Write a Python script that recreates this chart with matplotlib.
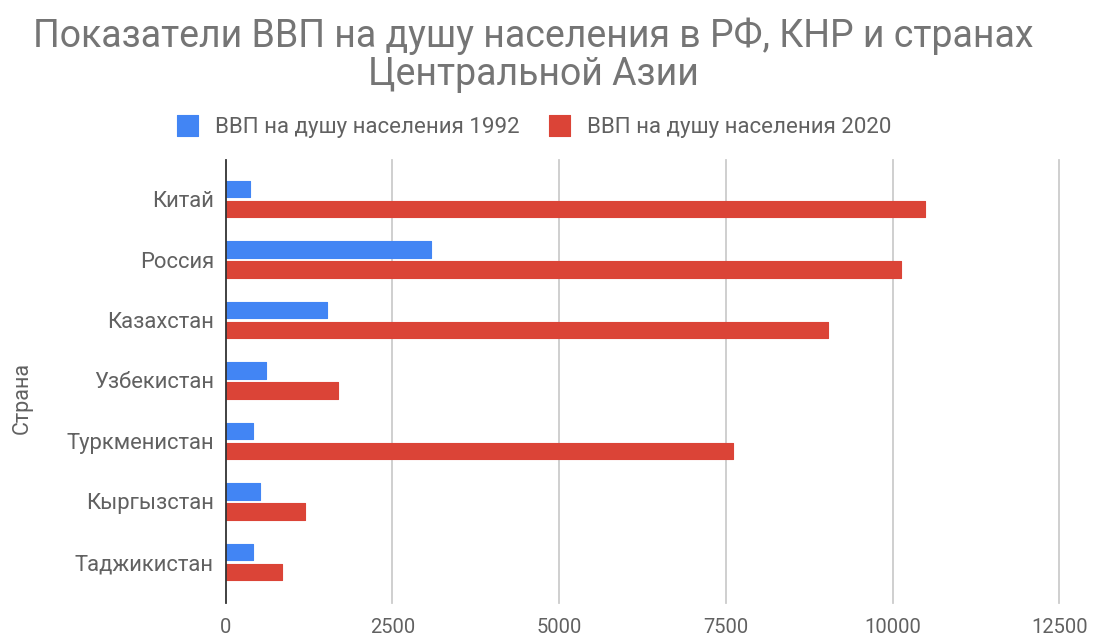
import matplotlib
matplotlib.use("Agg")
import matplotlib.pyplot as plt
from matplotlib.patches import Rectangle
import numpy as np

plt.rcParams['font.family'] = ['Roboto', 'DejaVu Sans']

countries = ["Китай", "Россия", "Казахстан", "Узбекистан", "Туркменистан", "Кыргызстан", "Таджикистан"]
gdp_1992 = [370, 3085, 1520, 600, 405, 515, 405]
gdp_2020 = [10490, 10120, 9030, 1685, 7605, 1185, 850]
series_names = ["ВВП на душу населения 1992", "ВВП на душу населения 2020"]
x_ticks = [0, 2500, 5000, 7500, 10000, 12500]
title_lines = ["Показатели ВВП на душу населения в РФ, КНР и странах", "Центральной Азии"]
y_title = "Страна"

W, H = 1093, 633
fig = plt.figure(figsize=(W / 100, H / 100), dpi=100)
fig.patch.set_facecolor("white")

ax_left, ax_right = 225.7, 1059.2
ax_top, ax_bottom = 160, 603
ax = fig.add_axes([ax_left / W, 1 - ax_bottom / H, (ax_right - ax_left) / W, (ax_bottom - ax_top) / H])

blue = "#4285f4"
red = "#db4437"
colors = [blue, red]
text_gray = "#616161"
title_gray = "#757575"
grid_gray = "#cccccc"

y = np.arange(len(countries))
bh = 0.27
off = 0.168
ax.barh(y - off, gdp_1992, height=bh, color=blue, edgecolor=blue, linewidth=0.8, joinstyle="round", zorder=3)
ax.barh(y + off, gdp_2020, height=bh, color=red, edgecolor=red, linewidth=0.8, joinstyle="round", zorder=3)

ax.set_xlim(0, 12500)
ax.set_ylim((603 - 199) / 60.5, (160 - 199) / 60.5)

for s in ax.spines.values():
    s.set_visible(False)
for t in x_ticks[1:]:
    ax.axvline(t, color=grid_gray, linewidth=1.3, zorder=1, clip_on=False)
ax.axvline(0, color="#333333", linewidth=1.3, zorder=4, clip_on=False)

ax.set_xticks(x_ticks)
ax.set_xticklabels([str(t) for t in x_ticks], fontsize=14.5, color=text_gray)
ax.set_yticks(y)
ax.set_yticklabels(countries, fontsize=15.8, color=text_gray)
ax.tick_params(axis="both", length=0)
ax.tick_params(axis="x", pad=10.5)
ax.tick_params(axis="y", pad=8.6)

fig.text(22 / W, 1 - 398 / H, y_title, rotation=90, fontsize=15.5, color=text_gray, ha="center", va="center")

fig.text(533 / W, 1 - 47 / H, title_lines[0], fontsize=27, color=title_gray, ha="center", va="baseline")
fig.text(533 / W, 1 - 85 / H, title_lines[1], fontsize=27, color=title_gray, ha="center", va="baseline")

# legend (manual placement)
sq_x = [177.3, 549.3]
txt_x = [215, 586.7]
sq_w, sq_h = 21, 20.5
leg_cy = 125.5
for i in range(2):
    r = Rectangle((sq_x[i] / W, 1 - (leg_cy + sq_h / 2) / H), sq_w / W, sq_h / H,
                  transform=fig.transFigure, facecolor=colors[i], edgecolor=colors[i],
                  linewidth=0.8, joinstyle="round")
    fig.patches.append(r)
    fig.text(txt_x[i] / W, 1 - leg_cy / H, series_names[i], fontsize=16, color=text_gray,
             ha="left", va="center_baseline")

fig.savefig("out.png", dpi=100, facecolor="white")
